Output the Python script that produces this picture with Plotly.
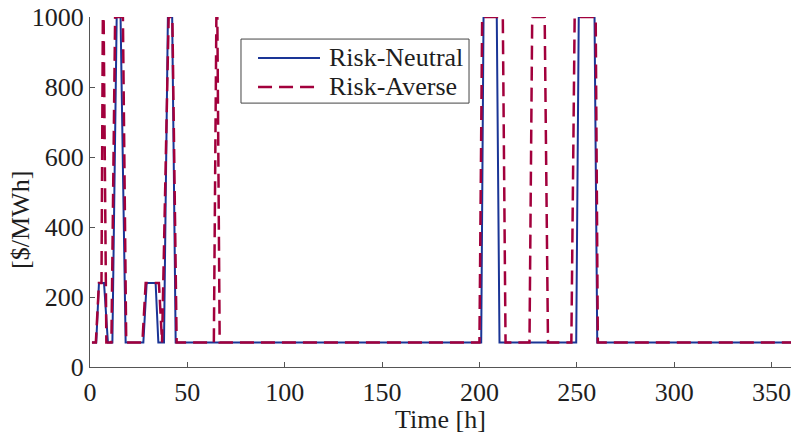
import plotly.graph_objects as go

# Electricity price breakpoints over the horizon (hour, $/MWh)
neutral_hours = [1, 3.2, 4.6, 7.2, 9.2, 11.5, 13.7, 15.7, 18.3, 27.4, 29.1, 33.7, 35.1,
                 38, 40, 42.2, 44, 200.9, 202.1, 208.9, 210.3, 249.7, 251, 259.1, 260.5, 360]
neutral_price = [70, 70, 240, 240, 70, 70, 1000, 1000, 70, 70, 240, 240, 70,
                 70, 1000, 1000, 70, 70, 1000, 1000, 70, 70, 1000, 1000, 70, 70]

averse_hours = [1, 3, 4.6, 5.9, 6.6, 7.0, 8.4, 11.0, 12.9, 16.9, 18.6, 26.9, 28.6, 35.4,
                37.0, 40.4, 42.3, 44.5, 63.6, 64.9, 65.4, 66.6, 200, 201.4, 212, 213.4,
                225.7, 227.1, 233.5, 235.2, 247.2, 248.9, 259.7, 260.8, 360]
averse_price = [70, 70, 240, 240, 1000, 1000, 70, 70, 1000, 1000, 70, 70, 240, 240,
                70, 1000, 1000, 70, 70, 1000, 1000, 70, 70, 1000, 1000, 70,
                70, 1000, 1000, 70, 70, 1000, 1000, 70, 70]

series_names = ["Risk-Neutral", "Risk-Averse"]
x_ticks = [0, 50, 100, 150, 200, 250, 300, 350]
y_ticks = [0, 200, 400, 600, 800, 1000]

FONT = "Liberation Serif"
FONT_SIZE = 26
TEXT_COLOR = "#1e1e1e"
AXIS_COLOR = "#555555"
BLUE = "#1a3596"
RED = "#a2003c"
RED_DASH = "14px,7px"

fig = go.Figure()
fig.add_trace(go.Scatter(
    x=neutral_hours, y=neutral_price, mode="lines", name=series_names[0],
    line=dict(color=BLUE, width=2), showlegend=False,
))
fig.add_trace(go.Scatter(
    x=averse_hours, y=averse_price, mode="lines", name=series_names[1],
    line=dict(color=RED, width=2.5, dash=RED_DASH), showlegend=False,
))

axis_common = dict(
    showline=True, linecolor=AXIS_COLOR, linewidth=1.2,
    ticks="inside", ticklen=5, tickcolor=AXIS_COLOR, tickwidth=1.2,
    showgrid=False, zeroline=False, mirror=False,
    tickfont=dict(family=FONT, size=FONT_SIZE, color=TEXT_COLOR),
)

# Boxed key in the upper-left part of the plot, with long line samples
key_box = dict(type="rect", xref="paper", yref="paper",
               x0=0.2154, x1=0.5407, y0=0.754, y1=0.937,
               line=dict(color="#444444", width=1), fillcolor="white", layer="above")
key_rows = [0.883, 0.800]
key_shapes = [key_box]
key_texts = []
for name, color, dash, width, yrow in zip(series_names, [BLUE, RED], ["solid", RED_DASH],
                                          [2, 2.5], key_rows):
    key_shapes.append(dict(type="line", xref="paper", yref="paper",
                           x0=0.2397, x1=0.3281, y0=yrow, y1=yrow,
                           line=dict(color=color, width=width, dash=dash), layer="above"))
    key_texts.append(dict(text=name, xref="paper", yref="paper", x=0.3381, y=yrow,
                          xanchor="left", yanchor="middle", showarrow=False,
                          font=dict(family=FONT, size=FONT_SIZE, color=TEXT_COLOR)))

fig.update_layout(
    width=793, height=434,
    margin=dict(l=90, r=2, t=17, b=67),
    paper_bgcolor="white", plot_bgcolor="white",
    font=dict(family=FONT, size=FONT_SIZE, color=TEXT_COLOR),
    xaxis=dict(range=[0, 360], tickvals=x_ticks, ticklabelstandoff=2,
               title=dict(text="Time [h]", standoff=2,
                          font=dict(family=FONT, size=FONT_SIZE, color=TEXT_COLOR)),
               **axis_common),
    yaxis=dict(range=[0, 1000], tickvals=y_ticks, **axis_common),
    showlegend=False,
    shapes=key_shapes,
    annotations=key_texts + [dict(
        text="[$/MWh]", textangle=-90, xref="paper", yref="paper",
        x=-0.1, y=0.42, xanchor="center", yanchor="middle", showarrow=False,
        font=dict(family=FONT, size=FONT_SIZE, color=TEXT_COLOR),
    )],
)

fig.write_html("out.html")
